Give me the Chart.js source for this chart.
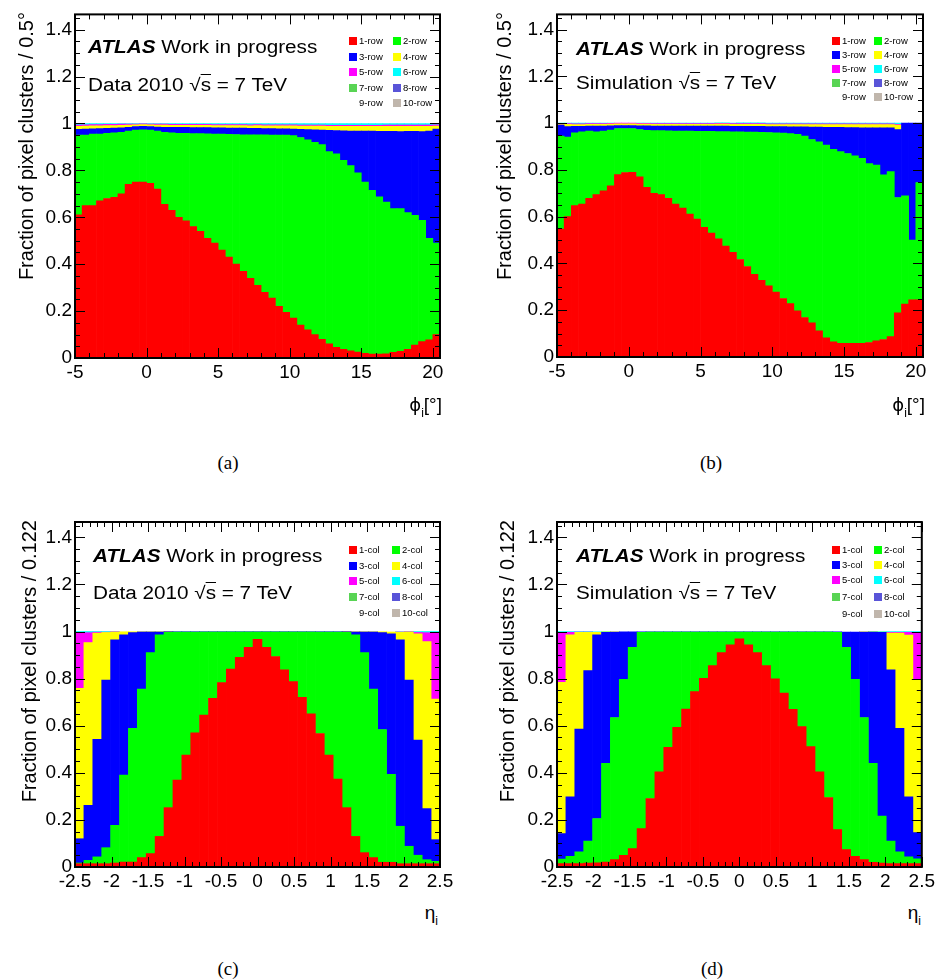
<!DOCTYPE html>
<html>
<head>
<meta charset="utf-8">
<script src="https://cdn.jsdelivr.net/npm/chart.js@4.4.1/dist/chart.umd.min.js"></script>
<style>
  body { margin: 0; background: #fff; }
  #page { position: relative; width: 938px; height: 979px; overflow: hidden;
          font-family: "Liberation Sans", Arial, sans-serif; color: #000; }
  canvas { position: absolute; }
  .lbl { position: absolute; white-space: nowrap; font-size: 18px; line-height: 1;
         transform-origin: 0 50%; transform: scaleX(1.15); }
  .ytitle { position: absolute; width: 400px; text-align: right; font-size: 20px; line-height: 1;
            white-space: nowrap; transform-origin: 0 0; transform: rotate(-90deg); }
  .xtitle { position: absolute; font-size: 19px; line-height: 1; white-space: nowrap; }
  .xtitle .g { font-family: "DejaVu Sans", "Liberation Sans", sans-serif; font-size: 18px; }
  .xtitle span.s { font-size: 12px; position: relative; top: 6px; }
  .cap { position: absolute; font-family: "Liberation Serif", serif; font-size: 19px; line-height: 1;
         transform: translateX(-50%); }
  .box { position: absolute; width: 8px; height: 8px; }
  .leg { position: absolute; font-size: 9.5px; line-height: 10px; white-space: nowrap; }
  .ov { text-decoration: overline; }
</style>
</head>
<body>
<div id="page">
  <canvas id="pa" width="469" height="395" style="left:0;top:0"></canvas>
  <canvas id="pb" width="469" height="395" style="left:469px;top:0"></canvas>
  <canvas id="pc" width="469" height="420" style="left:0;top:480px"></canvas>
  <canvas id="pd" width="469" height="420" style="left:469px;top:480px"></canvas>

  <div class="lbl" style="left:88px;top:38px"><b><i>ATLAS</i></b> Work in progress</div>
  <div class="lbl" style="left:88px;top:76px">Data 2010 √<span class="ov">s</span> = 7 TeV</div>
  <div class="lbl" style="left:576px;top:40px"><b><i>ATLAS</i></b> Work in progress</div>
  <div class="lbl" style="left:576px;top:74px">Simulation √<span class="ov">s</span> = 7 TeV</div>
  <div class="lbl" style="left:93px;top:547px"><b><i>ATLAS</i></b> Work in progress</div>
  <div class="lbl" style="left:93px;top:584px">Data 2010 √<span class="ov">s</span> = 7 TeV</div>
  <div class="lbl" style="left:576px;top:547px"><b><i>ATLAS</i></b> Work in progress</div>
  <div class="lbl" style="left:576px;top:584px">Simulation √<span class="ov">s</span> = 7 TeV</div>

  <div class="ytitle" style="left:16px;top:412px">Fraction of pixel clusters / 0.5°</div>
  <div class="ytitle" style="left:494px;top:412px">Fraction of pixel clusters / 0.5°</div>
  <div class="ytitle" style="left:19px;top:920px">Fraction of pixel clusters / 0.122</div>
  <div class="ytitle" style="left:497px;top:920px">Fraction of pixel clusters / 0.122</div>

  <div class="xtitle" style="right:496px;top:395px"><span class="g">ϕ</span><span class="s">i</span>[°]</div>
  <div class="xtitle" style="right:13px;top:395px"><span class="g">ϕ</span><span class="s">i</span>[°]</div>
  <div class="xtitle" style="right:500px;top:903px">η<span class="s">i</span></div>
  <div class="xtitle" style="right:17px;top:903px">η<span class="s">i</span></div>

  <div class="cap" style="left:228px;top:453px">(a)</div>
  <div class="cap" style="left:711px;top:453px">(b)</div>
  <div class="cap" style="left:228px;top:959px">(c)</div>
  <div class="cap" style="left:712px;top:959px">(d)</div>
</div>

<script>
// ROOT palette used for the n-row / n-col cluster classes
var rowColors = ['#ff0000', '#00ff00', '#0000ff', '#ffff00', '#ff00ff',
                 '#00ffff', '#59d454', '#5954d8', '#ffffff', '#c0b6ac'];

var phiTicks = [-5, 0, 5, 10, 15, 20];
var etaTicks = [-2.5, -2, -1.5, -1, -0.5, 0, 0.5, 1, 1.5, 2, 2.5];
var fracTicks = [0, 0.2, 0.4, 0.6, 0.8, 1, 1.2, 1.4];

// phi_i binning: -5 .. 20.5 deg, 0.5 deg bins ; eta_i: -2.5 .. 2.5, 41 bins
var phiLow = -5, phiWidth = 0.5;
var etaLow = -2.5, etaWidth = 5 / 41;

// (a) Data 2010, phi
var aRow1 = [0.61,0.65,0.65,0.67,0.68,0.685,0.70,0.74,0.75,0.75, 0.745,0.72,0.655,0.63,0.60,0.585,0.56,0.54,0.51,0.49, 0.46,0.43,0.40,0.37,0.34,0.31,0.28,0.255,0.22,0.195, 0.17,0.14,0.12,0.10,0.08,0.06,0.045,0.037,0.031,0.025, 0.02,0.017,0.017,0.018,0.024,0.028,0.037,0.055,0.07,0.077, 0.10];
var aRow2 = [0.34,0.30,0.305,0.285,0.278,0.275,0.262,0.227,0.222,0.223, 0.227,0.247,0.307,0.33,0.358,0.373,0.397,0.417,0.446,0.465, 0.495,0.524,0.553,0.582,0.612,0.641,0.671,0.695,0.73,0.755, 0.778,0.80,0.81,0.82,0.83,0.82,0.825,0.806,0.789,0.765, 0.73,0.698,0.67,0.647,0.613,0.609,0.583,0.553,0.517,0.433, 0.39];
var aRow3 = [0.025,0.026,0.022,0.023,0.021,0.02,0.019,0.017,0.015,0.015, 0.015,0.018,0.022,0.023,0.025,0.025,0.025,0.025,0.026,0.026, 0.026,0.026,0.027,0.028,0.027,0.028,0.027,0.028,0.027,0.027, 0.028,0.035,0.044,0.053,0.062,0.091,0.10,0.126,0.148,0.178, 0.217,0.252,0.279,0.301,0.329,0.328,0.346,0.358,0.378,0.458, 0.486];
var aRow4 = [0.013,0.013,0.013,0.012,0.012,0.011,0.011,0.009,0.007,0.007, 0.007,0.008,0.009,0.009,0.009,0.009,0.01,0.01,0.01,0.01, 0.01,0.011,0.011,0.011,0.011,0.012,0.012,0.012,0.013,0.013, 0.014,0.014,0.015,0.016,0.017,0.017,0.018,0.019,0.02,0.02, 0.021,0.021,0.022,0.022,0.022,0.023,0.022,0.022,0.023,0.02, 0.013];
var aRow5 = [0.005,0.005,0.005,0.005,0.005,0.005,0.005,0.004,0.003,0.003, 0.003,0.004,0.004,0.004,0.004,0.004,0.004,0.004,0.004,0.004, 0.004,0.004,0.004,0.004,0.004,0.004,0.004,0.004,0.004,0.004, 0.004,0.004,0.004,0.004,0.004,0.004,0.004,0.004,0.004,0.004, 0.004,0.004,0.004,0.005,0.005,0.005,0.005,0.005,0.005,0.005, 0.005];
var aRow6 = [0.007,0.006,0.005,0.005,0.004,0.004,0.003,0.003,0.003,0.002, 0.003,0.003,0.003,0.004,0.004,0.004,0.004,0.004,0.004,0.005, 0.005,0.005,0.005,0.005,0.006,0.005,0.006,0.006,0.006,0.006, 0.006,0.007,0.007,0.007,0.007,0.008,0.008,0.008,0.008,0.008, 0.008,0.008,0.008,0.007,0.007,0.007,0.007,0.007,0.007,0.007, 0.006];

// (b) Simulation, phi
var bRow1 = [0.547,0.60,0.647,0.654,0.678,0.694,0.711,0.732,0.78,0.789, 0.79,0.77,0.725,0.70,0.694,0.678,0.654,0.637,0.611,0.59, 0.555,0.53,0.505,0.474,0.448,0.417,0.387,0.353,0.328,0.304, 0.278,0.25,0.228,0.197,0.169,0.146,0.112,0.082,0.065,0.058, 0.058,0.058,0.058,0.062,0.069,0.075,0.087,0.189,0.226,0.245, 0.245];
var bRow2 = [0.398,0.34,0.312,0.309,0.288,0.269,0.255,0.238,0.197,0.188, 0.187,0.203,0.244,0.268,0.274,0.289,0.312,0.329,0.355,0.375, 0.41,0.435,0.459,0.49,0.515,0.546,0.575,0.609,0.633,0.656, 0.681,0.707,0.727,0.755,0.776,0.784,0.808,0.824,0.823,0.82, 0.812,0.802,0.792,0.765,0.752,0.704,0.706,0.493,0.463,0.255, 0.501];
var bRow3 = [0.047,0.045,0.027,0.023,0.021,0.024,0.021,0.018,0.013,0.013, 0.013,0.016,0.019,0.019,0.019,0.02,0.021,0.021,0.021,0.022, 0.022,0.022,0.023,0.023,0.023,0.023,0.024,0.024,0.025,0.025, 0.026,0.028,0.029,0.032,0.039,0.053,0.063,0.076,0.094,0.104, 0.111,0.121,0.13,0.153,0.159,0.201,0.187,0.29,0.311,0.50, 0.254];
var bRow4 = [0.002,0.01,0.008,0.008,0.008,0.008,0.008,0.008,0.007,0.007, 0.007,0.007,0.008,0.008,0.008,0.008,0.008,0.008,0.008,0.008, 0.008,0.008,0.009,0.009,0.009,0.009,0.009,0.009,0.009,0.009, 0.009,0.009,0.01,0.01,0.01,0.011,0.011,0.012,0.012,0.012, 0.013,0.013,0.014,0.014,0.014,0.014,0.014,0.02,0,0, 0];
var bRow5 = [0.003,0.003,0.003,0.003,0.003,0.003,0.003,0.003,0.003,0.003, 0.003,0.003,0.003,0.003,0.003,0.003,0.003,0.003,0.003,0.003, 0.003,0.003,0.003,0.003,0.003,0.003,0.003,0.003,0.003,0.003, 0.003,0.003,0.003,0.003,0.003,0.003,0.003,0.003,0.003,0.003, 0.003,0.003,0.003,0.003,0.003,0.003,0.003,0.003,0,0, 0];
var bRow6 = [0.003,0.002,0.003,0.003,0.002,0.002,0.002,0.001,0,0, 0,0.001,0.001,0.002,0.002,0.002,0.002,0.002,0.002,0.002, 0.002,0.002,0.002,0.002,0.002,0.003,0.003,0.003,0.003,0.003, 0.003,0.003,0.003,0.003,0.003,0.003,0.003,0.003,0.003,0.003, 0.003,0.003,0.003,0.003,0.003,0.003,0.003,0.005,0,0, 0];

// (c) Data 2010, eta
var cRow1 = [0.014,0.014,0.014,0.014,0.017,0.021,0.021,0.04,0.057,0.13, 0.252,0.369,0.475,0.57,0.645,0.716,0.783,0.84,0.89,0.933, 0.967,0.933,0.894,0.837,0.787,0.72,0.65,0.567,0.475,0.373, 0.252,0.13,0.061,0.04,0.02,0.02,0.014,0.014,0.014,0.014, 0.014];
var cRow2 = [0.003,0.014,0.029,0.068,0.16,0.369,0.568,0.715,0.853,0.856, 0.744,0.629,0.523,0.428,0.353,0.282,0.215,0.158,0.108,0.065, 0.031,0.065,0.104,0.161,0.211,0.278,0.348,0.431,0.523,0.625, 0.744,0.856,0.849,0.715,0.564,0.374,0.159,0.074,0.036,0.017, 0.01];
var cRow3 = [0.103,0.234,0.499,0.712,0.788,0.596,0.406,0.243,0.088,0.012, 0.003,0.001,0.001,0.001,0.001,0.001,0.001,0.001,0.001,0.001, 0.001,0.001,0.001,0.001,0.001,0.001,0.001,0.001,0.001,0.001, 0.003,0.012,0.088,0.243,0.411,0.596,0.792,0.706,0.489,0.217, 0.092];
var cRow4 = [0.639,0.691,0.451,0.202,0.033,0.013,0.004,0.001,0.001,0.001, 0.001,0,0,0,0,0,0,0,0,0, 0,0,0,0,0,0,0,0,0,0, 0.001,0.001,0.001,0.001,0.004,0.008,0.032,0.204,0.451,0.709, 0.597];
var cRow5 = [0.234,0.042,0.004,0.001,0.001,0,0,0,0,0, 0,0,0,0,0,0,0,0,0,0, 0,0,0,0,0,0,0,0,0,0, 0,0,0,0,0,0,0.001,0.001,0.006,0.038, 0.28];
var cRow6 = [0.007,0.005,0.003,0.003,0.001,0,0,0,0,0, 0,0,0,0,0,0,0,0,0,0, 0,0,0,0,0,0,0,0,0,0, 0,0,0,0,0,0,0.001,0.001,0.004,0.005, 0.007];

// (d) Simulation, eta
var dRow1 = [0.014,0.014,0.014,0.017,0.018,0.021,0.031,0.05,0.078,0.163, 0.291,0.404,0.508,0.593,0.671,0.745,0.801,0.855,0.91,0.943, 0.969,0.943,0.91,0.855,0.799,0.738,0.67,0.596,0.511,0.404, 0.295,0.159,0.074,0.045,0.031,0.02,0.017,0.014,0.014,0.014, 0.014];
var dRow2 = [0.02,0.031,0.05,0.093,0.188,0.419,0.604,0.747,0.855,0.833, 0.707,0.594,0.49,0.405,0.327,0.253,0.197,0.143,0.088,0.055, 0.029,0.055,0.088,0.143,0.199,0.26,0.328,0.402,0.487,0.594, 0.703,0.837,0.859,0.752,0.604,0.42,0.199,0.096,0.05,0.029, 0.021];
var dRow3 = [0.108,0.253,0.522,0.724,0.78,0.557,0.363,0.202,0.066,0.003, 0.001,0.001,0.001,0.001,0.001,0.001,0.001,0.001,0.001,0.001, 0.001,0.001,0.001,0.001,0.001,0.001,0.001,0.001,0.001,0.001, 0.001,0.003,0.065,0.201,0.363,0.558,0.781,0.727,0.525,0.255, 0.111];
var dRow4 = [0.642,0.688,0.41,0.163,0.011,0.002,0.001,0,0,0, 0,0,0,0,0,0,0,0,0,0, 0,0,0,0,0,0,0,0,0,0, 0,0,0,0,0.001,0.001,0.001,0.156,0.404,0.687, 0.648];
var dRow5 = [0.209,0.01,0.002,0.001,0,0,0,0,0,0, 0,0,0,0,0,0,0,0,0,0, 0,0,0,0,0,0,0,0,0,0, 0,0,0,0,0,0,0,0.004,0.004,0.012, 0.2];
var dRow6 = [0.007,0.004,0.002,0.002,0.002,0.001,0,0,0,0, 0,0,0,0,0,0,0,0,0,0, 0,0,0,0,0,0,0,0,0,0, 0,0,0,0,0,0.001,0.002,0.003,0.003,0.003, 0.006];

// 7..10 row/col classes are not visible in the plots
var emptyRow = [];

var phiCenters = aRow1.map(function(_, i){ return phiLow + phiWidth * (i + 0.5); });
var etaCenters = cRow1.map(function(_, i){ return etaLow + etaWidth * (i + 0.5); });

// frame with ROOT style inner ticks on all four sides
var framePlugin = {
    id: 'frame',
    afterDatasetsDraw: function(chart, args, o){
        var ctx = chart.ctx, a = chart.chartArea;
        var x = chart.scales.x, y = chart.scales.y;
        ctx.save();
        ctx.strokeStyle = '#000';
        ctx.lineWidth = 1;
        ctx.beginPath();
        var nx = Math.floor((x.max - x.min) / o.xMinor + 1e-6);
        for (var i = 0; i <= nx; i++){
            var v = x.min + i * o.xMinor;
            var major = o.xMajor.some(function(m){ return Math.abs(m - v) < 1e-6; });
            var len = major ? 10 : 5;
            var px = Math.round(x.getPixelForValue(v)) + 0.5;
            ctx.moveTo(px, a.bottom); ctx.lineTo(px, a.bottom - len);
            ctx.moveTo(px, a.top); ctx.lineTo(px, a.top + len);
        }
        var ny = Math.floor((y.max - y.min) / o.yMinor + 1e-6);
        for (var j = 0; j <= ny; j++){
            var w = y.min + j * o.yMinor;
            var ymaj = fracTicks.some(function(m){ return Math.abs(m - w) < 1e-6; });
            var ylen = ymaj ? 10 : 5;
            var py = Math.round(y.getPixelForValue(w)) + 0.5;
            ctx.moveTo(a.left, py); ctx.lineTo(a.left + ylen, py);
            ctx.moveTo(a.right, py); ctx.lineTo(a.right - ylen, py);
        }
        ctx.stroke();
        ctx.lineWidth = 2;
        ctx.strokeRect(a.left, a.top, a.right - a.left, a.bottom - a.top);
        ctx.restore();
    }
};

function drawPanel(p){
    var rows = p.rows.concat([emptyRow, emptyRow, emptyRow, emptyRow]);
    var datasets = rows.map(function(vals, k){
        return {
            label: (k + 1) + p.suffix,
            data: vals.map(function(v, i){ return {x: p.centers[i], y: v > 0 ? v : null}; }),
            backgroundColor: rowColors[k],
            borderWidth: 0,
            categoryPercentage: 1,
            barPercentage: 1
        };
    });
    var tickFont = {family: 'Liberation Sans', size: 19};
    new Chart(document.getElementById(p.id), {
        type: 'bar',
        data: {datasets: datasets},
        options: {
            responsive: false,
            animation: false,
            devicePixelRatio: 1,
            events: [],
            layout: {padding: {left: 0, top: p.area.t, right: p.w - p.area.r, bottom: 0}},
            plugins: {
                legend: {display: false},
                tooltip: {enabled: false},
                frame: {xMinor: p.xMinor, xMajor: p.xTicks, yMinor: 0.05}
            },
            scales: {
                x: {
                    type: 'linear', min: p.xMin, max: p.xMax, offset: false, stacked: true,
                    grid: {display: false, drawTicks: false}, border: {display: false},
                    ticks: {autoSkip: false, maxRotation: 0, minRotation: 0, padding: 3,
                            font: tickFont, color: '#000',
                            callback: function(v){ return String(v); }},
                    afterBuildTicks: function(s){ s.ticks = p.xTicks.map(function(v){ return {value: v}; }); },
                    afterFit: function(s){ s.height = p.h - p.area.b; }
                },
                y: {
                    min: 0, max: 1.465, stacked: true,
                    grid: {display: false, drawTicks: false}, border: {display: false},
                    ticks: {autoSkip: false, padding: 3, font: tickFont, color: '#000',
                            callback: function(v){ return String(v); }},
                    afterBuildTicks: function(s){ s.ticks = fracTicks.map(function(v){ return {value: v}; }); },
                    afterFit: function(s){ s.width = p.area.l; }
                }
            }
        },
        plugins: [framePlugin]
    });
}

function drawLegend(l){
    var page = document.getElementById('page');
    for (var k = 0; k < 10; k++){
        var col = k % 2, row = Math.floor(k / 2);
        var bx = col === 0 ? l.x1 : l.x2;
        var cy = l.rows[row];
        var b = document.createElement('div');
        b.className = 'box';
        b.style.left = bx + 'px';
        b.style.top = (cy - 4) + 'px';
        b.style.background = rowColors[k];
        page.appendChild(b);
        var t = document.createElement('div');
        t.className = 'leg';
        t.style.left = (bx + 10) + 'px';
        t.style.top = (cy - 5) + 'px';
        t.textContent = (k + 1) + l.suffix;
        page.appendChild(t);
    }
}

drawPanel({id: 'pa', w: 469, h: 395, area: {l: 75, t: 14, r: 440, b: 358},
           rows: [aRow1, aRow2, aRow3, aRow4, aRow5, aRow6], centers: phiCenters, suffix: '-row',
           xMin: -5, xMax: 20.5, xTicks: phiTicks, xMinor: 1});
drawPanel({id: 'pb', w: 469, h: 395, area: {l: 88, t: 13, r: 454, b: 357},
           rows: [bRow1, bRow2, bRow3, bRow4, bRow5, bRow6], centers: phiCenters, suffix: '-row',
           xMin: -5, xMax: 20.5, xTicks: phiTicks, xMinor: 1});
drawPanel({id: 'pc', w: 469, h: 420, area: {l: 75, t: 42, r: 440, b: 387},
           rows: [cRow1, cRow2, cRow3, cRow4, cRow5, cRow6], centers: etaCenters, suffix: '-col',
           xMin: -2.5, xMax: 2.5, xTicks: etaTicks, xMinor: 0.1});
drawPanel({id: 'pd', w: 469, h: 420, area: {l: 88, t: 42, r: 454, b: 387},
           rows: [dRow1, dRow2, dRow3, dRow4, dRow5, dRow6], centers: etaCenters, suffix: '-col',
           xMin: -2.5, xMax: 2.5, xTicks: etaTicks, xMinor: 0.1});

drawLegend({x1: 349, x2: 393, rows: [41, 56.5, 72, 87.5, 103], suffix: '-row'});
drawLegend({x1: 832, x2: 874, rows: [41, 55, 69, 83, 97], suffix: '-row'});
drawLegend({x1: 349, x2: 392, rows: [550, 565.5, 581, 597, 613], suffix: '-col'});
drawLegend({x1: 832, x2: 874, rows: [550, 565, 580, 597, 614], suffix: '-col'});
</script>
</body>
</html>
